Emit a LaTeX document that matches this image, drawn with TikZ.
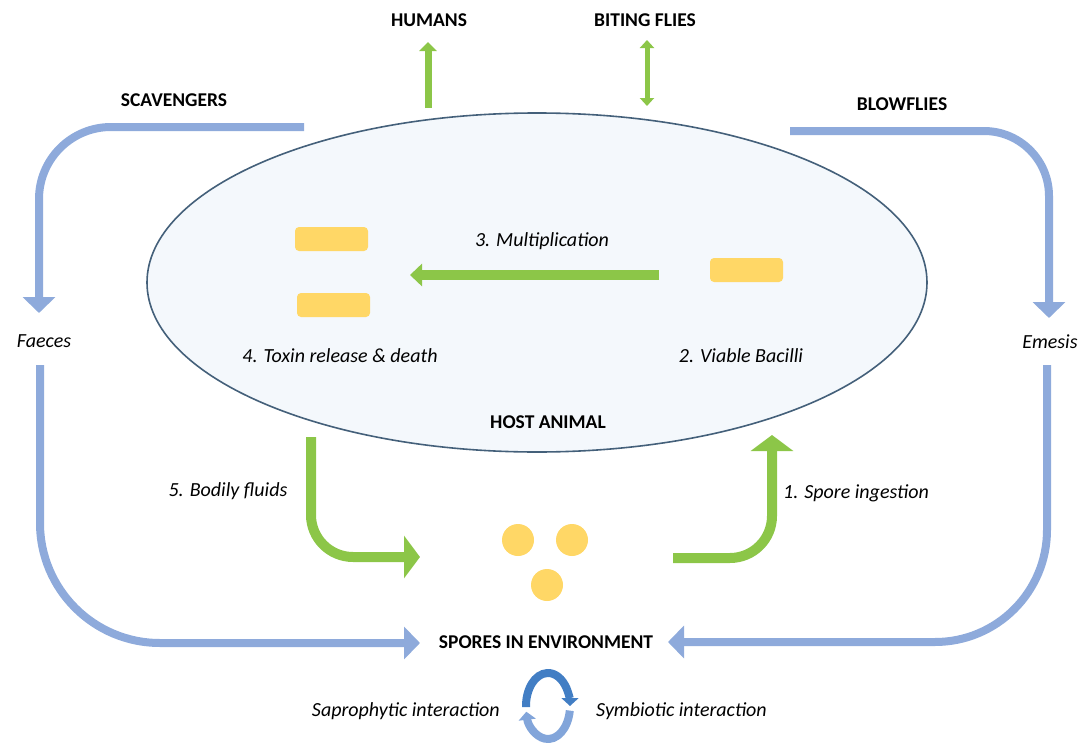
\documentclass[tikz,border=0pt]{standalone}
\usepackage{fontspec}
\setmainfont{Carlito}
\usetikzlibrary{arrows.meta,shapes.geometric,calc}
\definecolor{loopblue}{RGB}{142,170,219}
\definecolor{leafgreen}{RGB}{140,198,72}
\definecolor{bacgold}{RGB}{255,215,102}
\definecolor{hostfill}{RGB}{244,248,252}
\definecolor{hostedge}{RGB}{68,96,122}
\definecolor{ringdark}{RGB}{66,126,196}
\definecolor{ringlight}{RGB}{130,165,218}
\tikzset{
  bold label/.style={font=\fontsize{19.5}{22}\selectfont\bfseries, inner sep=0pt},
  ital label/.style={font=\fontsize{20}{23}\selectfont\itshape, inner sep=0pt},
  blueloop/.style={draw=loopblue, line width=8pt, -{Triangle[width=32pt,length=16pt]}},
  greenflow/.style={draw=leafgreen, line width=10pt, -{Triangle[width=42pt,length=16pt]}},
  bacillus/.style={fill=bacgold, draw=none, rounded corners=4pt},
  spore/.style={circle, fill=bacgold, draw=none, minimum size=32pt, inner sep=0pt},
}
\begin{document}
\begin{tikzpicture}[x=1pt,y=-1pt]
\useasboundingbox (0,0) rectangle (1080,744);

% host animal
\node[ellipse, draw=hostedge, line width=1.6pt, fill=hostfill, minimum width=780pt, minimum height=339pt, inner sep=0pt] (host) at (537,282.5) {};
\node[bold label] (hostlbl) at (548,422) {HOST ANIMAL};

% bacilli
\fill[bacillus] (295,227) rectangle (368,251);
\fill[bacillus] (297,293) rectangle (370,317);
\fill[bacillus] (710,258) rectangle (783,282);

% multiplication
\coordinate (multA) at (659,275);
\coordinate (multB) at (410,275);
\draw[draw=leafgreen, line width=10pt, -{Triangle[width=22pt,length=12pt]}] (multA) -- (multB);
\node[ital label] (mult) at (542,241) {3. Multiplication};
\node[ital label] (toxin) at (340,356) {4. Toxin release \& death};
\node[ital label] (viable) at (741,356) {2. Viable Bacilli};

% top labels and arrows
\node[bold label] (humans) at (429,20) {HUMANS};
\node[bold label] (biting) at (645,20) {BITING FLIES};
\coordinate (humA) at (428,108);
\coordinate (humB) at (428,42);
\draw[draw=leafgreen, line width=7pt, -{Triangle[width=17pt,length=9pt]}] (humA) -- (humB);
\coordinate (bitA) at (647,106);
\coordinate (bitB) at (647,40);
\draw[draw=leafgreen, line width=5pt, {Triangle[width=14pt,length=8pt]}-{Triangle[width=14pt,length=8pt]}] (bitA) -- (bitB);

% scavengers / faeces
\node[bold label] (scav) at (174,100) {SCAVENGERS};
\node[ital label] (faeces) at (44,341) {Faeces};
\coordinate (scavA) at (304,127);
\coordinate (scavB) at (39,313);
\draw[blueloop, rounded corners=72pt] (scavA) -| (scavB);

% blowflies / emesis
\node[bold label] (blow) at (902,104) {BLOWFLIES};
\node[ital label] (emesis) at (1050,342) {Emesis};
\coordinate (blowA) at (790,131);
\coordinate (blowB) at (1049,318);
\draw[blueloop, rounded corners=65pt] (blowA) -| (blowB);

% spores in environment
\node[bold label] (spores) at (546,642) {SPORES IN ENVIRONMENT};
\coordinate (faeA) at (40,365);
\coordinate (faeB) at (420,643);
\draw[blueloop, rounded corners=120pt] (faeA) |- (faeB);
\coordinate (emeA) at (1047,365);
\coordinate (emeB) at (668,642);
\draw[blueloop, rounded corners=112pt] (emeA) |- (emeB);

% spores
\node[spore] (s1) at (518,540) {};
\node[spore] (s2) at (572,540) {};
\node[spore] (s3) at (547,585) {};

% bodily fluids / spore ingestion
\coordinate (bodA) at (311,437);
\coordinate (bodB) at (420,557);
\draw[greenflow, rounded corners=42pt] (bodA) |- (bodB);
\node[ital label] (bodily) at (228,491) {5. Bodily fluids};
\coordinate (ingA) at (673,558);
\coordinate (ingB) at (772,435);
\draw[greenflow, rounded corners=42pt] (ingA) -| (ingB);
\node[ital label] (ingest) at (856,493) {1. Spore ingestion};

% interaction cycle
\coordinate (ring) at (548,706);
\draw[draw=ringdark, line width=8pt, -{Triangle[width=17pt,length=8pt]}] ($(ring)+(178:22 and 33)$) arc[start angle=178, end angle=360, x radius=22, y radius=33];
\draw[draw=ringlight, line width=8pt, -{Triangle[width=17pt,length=8pt]}] ($(ring)+(8:22 and 33)$) arc[start angle=8, end angle=170, x radius=22, y radius=33];
\node[ital label, anchor=east] (sapro) at (500,711) {Saprophytic interaction};
\node[ital label, anchor=west] (symb) at (596,711) {Symbiotic interaction};
\end{tikzpicture}
\end{document}
